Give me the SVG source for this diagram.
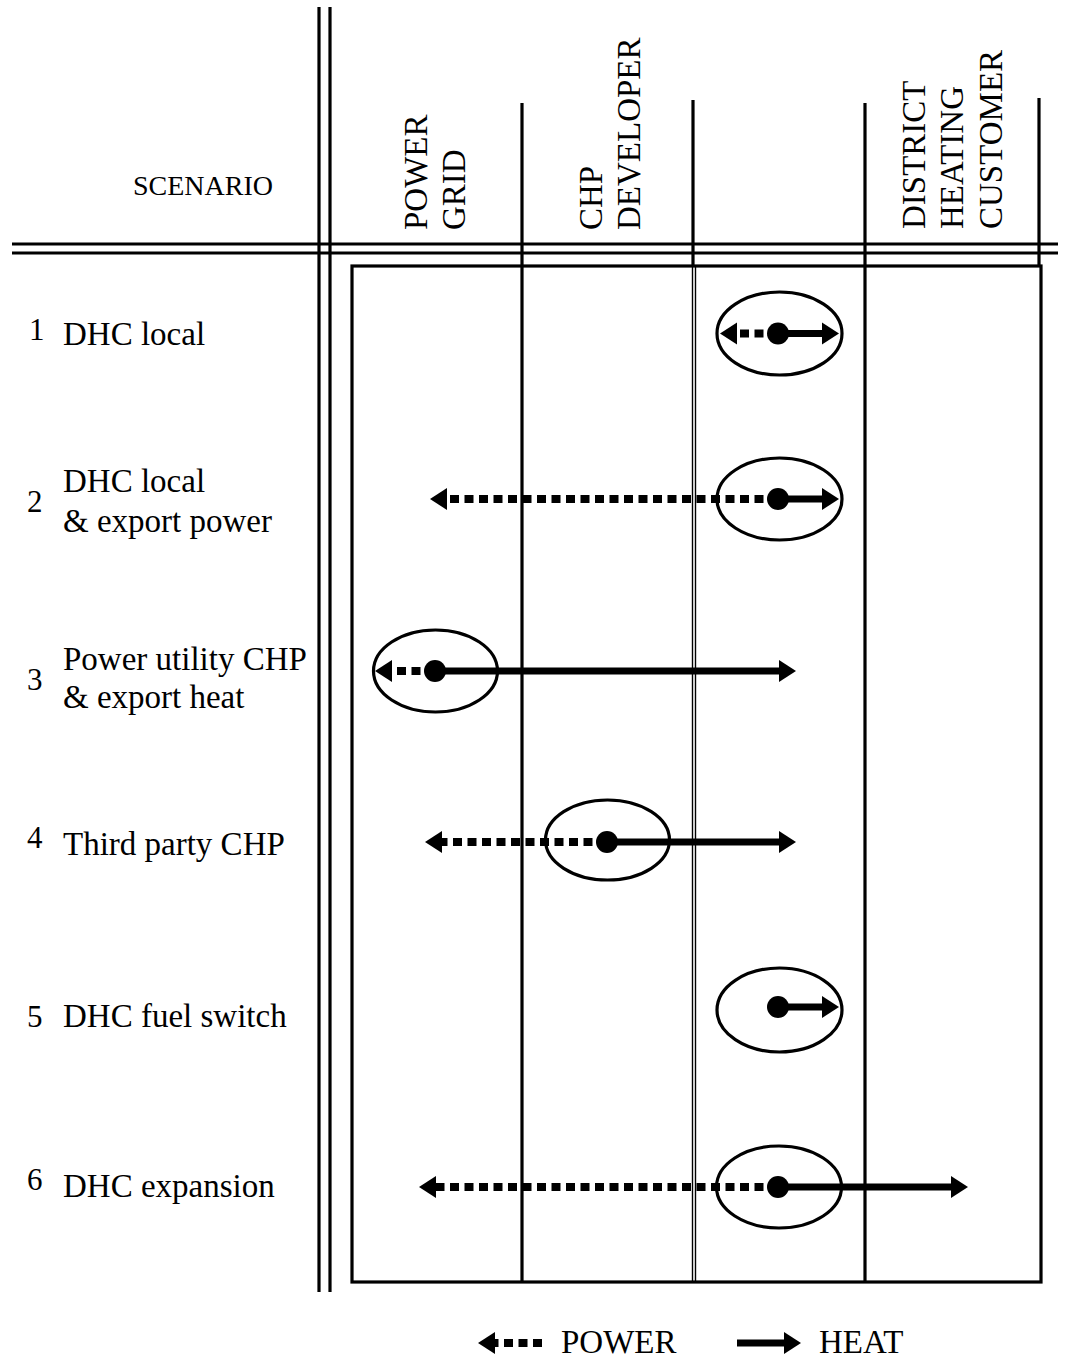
<svg xmlns="http://www.w3.org/2000/svg" width="1066" height="1360" viewBox="0 0 1066 1360">
<style>
  text { font-family: "Liberation Serif", "Times New Roman", serif; fill: #000; }
  .hdr { font-size: 33px; }
  .lbl { font-size: 33px; }
  .num { font-size: 31px; }
  .leg { font-size: 33px; }
  .rule { stroke: #000; stroke-width: 3.2; fill: none; }
  .thin { stroke: #000; stroke-width: 1.4; fill: none; }
  .oval { stroke: #000; stroke-width: 3.2; fill: none; }
  .heat { stroke: #000; stroke-width: 7; fill: none; marker-end: url(#headHeat); }
  .power { stroke: #000; stroke-width: 8; fill: none; stroke-dasharray: 9 5.5; marker-end: url(#headPower); }
  .dot { fill: #000; }
</style>
<defs>
  <marker id="headHeat" markerUnits="userSpaceOnUse" viewBox="0 -12 18 24" markerWidth="18" markerHeight="24" refX="0" refY="0" orient="auto">
    <path d="M0,-11 L17,0 L0,11 Z" fill="#000"/>
  </marker>
  <marker id="headPower" markerUnits="userSpaceOnUse" viewBox="0 -12 18 24" markerWidth="18" markerHeight="24" refX="0" refY="0" orient="auto">
    <path d="M0,-11 L17,0 L0,11 Z" fill="#000"/>
  </marker>
</defs>

<g id="grid">
  <line class="rule" x1="319" y1="7" x2="319" y2="1292"/>
  <line class="rule" x1="330" y1="7" x2="330" y2="1292"/>
  <line class="rule" x1="12" y1="244" x2="1058" y2="244"/>
  <line class="rule" x1="12" y1="253" x2="1058" y2="253"/>
  <rect class="rule" x="352" y="266" width="689" height="1016"/>
  <line class="rule" x1="522" y1="103" x2="522" y2="1282"/>
  <line class="rule" x1="693" y1="100" x2="693" y2="266"/>
  <line class="thin" x1="692.5" y1="266" x2="692.5" y2="1282"/>
  <line class="thin" x1="695.5" y1="266" x2="695.5" y2="1282"/>
  <line class="rule" x1="865" y1="103" x2="865" y2="1282"/>
  <line class="rule" x1="1039" y1="98" x2="1039" y2="266"/>
</g>

<g id="headers">
  <text x="133" y="195" style="font-size:28px">SCENARIO</text>
  <text class="hdr" transform="translate(427,230) rotate(-90)">POWER</text>
  <text class="hdr" transform="translate(465,230) rotate(-90)">GRID</text>
  <text class="hdr" transform="translate(602,230) rotate(-90)">CHP</text>
  <text class="hdr" transform="translate(640,230) rotate(-90)">DEVELOPER</text>
  <text class="hdr" transform="translate(925,229) rotate(-90)">DISTRICT</text>
  <text class="hdr" transform="translate(963,229) rotate(-90)">HEATING</text>
  <text class="hdr" transform="translate(1002,229) rotate(-90)">CUSTOMER</text>
</g>

<g id="scenario-1">
  <text class="num" x="29" y="340">1</text>
  <text class="lbl" x="63" y="345">DHC local</text>
  <ellipse class="oval" cx="779.5" cy="333.5" rx="62.5" ry="41.5"/>
</g>
<g id="scenario-2">
  <text class="num" x="27" y="512">2</text>
  <text class="lbl" x="63" y="492">DHC local</text>
  <text class="lbl" x="63" y="532">&amp; export power</text>
  <ellipse class="oval" cx="779.5" cy="499" rx="62.5" ry="41"/>
</g>
<g id="scenario-3">
  <text class="num" x="27" y="690">3</text>
  <text class="lbl" x="63" y="670">Power utility CHP</text>
  <text class="lbl" x="63" y="708">&amp; export heat</text>
  <ellipse class="oval" cx="435.5" cy="671" rx="62" ry="41"/>
</g>
<g id="scenario-4">
  <text class="num" x="27" y="848">4</text>
  <text class="lbl" x="63" y="855">Third party CHP</text>
  <ellipse class="oval" cx="607.5" cy="840" rx="62" ry="40"/>
</g>
<g id="scenario-5">
  <text class="num" x="27" y="1027">5</text>
  <text class="lbl" x="63" y="1027">DHC fuel switch</text>
  <ellipse class="oval" cx="779.5" cy="1010" rx="62.5" ry="42"/>
</g>
<g id="scenario-6">
  <text class="num" x="27" y="1190">6</text>
  <text class="lbl" x="63" y="1197">DHC expansion</text>
  <ellipse class="oval" cx="779" cy="1187" rx="62.5" ry="41"/>
</g>

<g id="connectors">
  <path class="power" d="M778,333.5 H737"/>
  <path class="heat" d="M778,333.5 H822"/>
  <circle class="dot" cx="778" cy="333.5" r="11"/>
  <path class="power" d="M778,499 H447"/>
  <path class="heat" d="M778,499 H822"/>
  <circle class="dot" cx="778" cy="499" r="11"/>
  <path class="power" d="M435,671 H392"/>
  <path class="heat" d="M435,671 H779"/>
  <circle class="dot" cx="435" cy="671" r="11"/>
  <path class="power" d="M607,842 H442"/>
  <path class="heat" d="M607,842 H779"/>
  <circle class="dot" cx="607" cy="842" r="11"/>
  <path class="heat" d="M778,1007 H822"/>
  <circle class="dot" cx="778" cy="1007" r="11"/>
  <path class="power" d="M778,1187 H436"/>
  <path class="heat" d="M778,1187 H951"/>
  <circle class="dot" cx="778" cy="1187" r="11"/>
</g>

<g id="legend">
  <path class="power" d="M542,1343 H495"/>
  <text class="leg" x="561" y="1353">POWER</text>
  <path class="heat" d="M737,1343 H784"/>
  <text class="leg" x="819" y="1353">HEAT</text>
</g>
</svg>
